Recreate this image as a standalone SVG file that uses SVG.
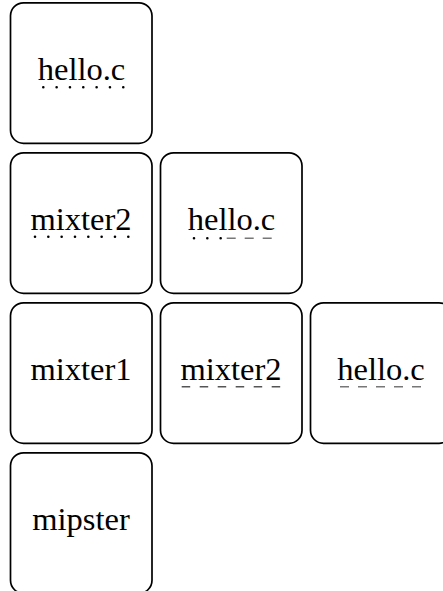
<svg xmlns="http://www.w3.org/2000/svg" width="443" height="591" viewBox="0 0 443 591">
<style>
.box{fill:#fff;stroke:#000;stroke-width:1.7}
.lbl{font-family:"Liberation Serif","DejaVu Serif",serif;font-size:32.5px;fill:#000;text-anchor:middle}
.dot{stroke:#000;stroke-width:2.6;stroke-linecap:round;stroke-dasharray:0 13.33;fill:none}
.dash{stroke:#777;stroke-width:1.6;fill:none;stroke-dasharray:9 9}
.dash2{stroke:#555;stroke-width:1.6;fill:none;stroke-dasharray:8.5 9.5}
</style>
<rect width="443" height="591" fill="#fff"/>
<g id="n1"><rect class="box" x="10.5" y="2.8" width="141.5" height="140.5" rx="13"/><text class="lbl" x="81.5" y="80">hello.c</text><path class="dot" d="M43.3 87.3H124"/></g>
<g id="n2"><rect class="box" x="10.5" y="152.8" width="141.5" height="140.5" rx="13"/><text class="lbl" x="81" y="230">mixter2</text><path class="dot" d="M35 236.7H129"/></g>
<g id="n3"><rect class="box" x="160.5" y="152.8" width="141.5" height="140.5" rx="13"/><text class="lbl" x="231.5" y="230">hello.c</text><path class="dot" d="M194 238.3H221"/><path class="dash" d="M226.7 238.3H272"/></g>
<g id="n4"><rect class="box" x="10.5" y="302.8" width="141.5" height="140.5" rx="13"/><text class="lbl" x="81" y="380">mixter1</text></g>
<g id="n5"><rect class="box" x="160.5" y="302.8" width="141.5" height="140.5" rx="13"/><text class="lbl" x="231" y="380">mixter2</text><path class="dash2" d="M181.7 386.7H280.5"/></g>
<g id="n6"><rect class="box" x="310.5" y="302.8" width="141.5" height="140.5" rx="13"/><text class="lbl" x="381" y="380">hello.c</text><path class="dash" d="M340 386.7H422"/></g>
<g id="n7"><rect class="box" x="10.5" y="452.8" width="141.5" height="140.5" rx="13"/><text class="lbl" x="81" y="530">mipster</text></g>
<g id="connectors"></g>
</svg>
